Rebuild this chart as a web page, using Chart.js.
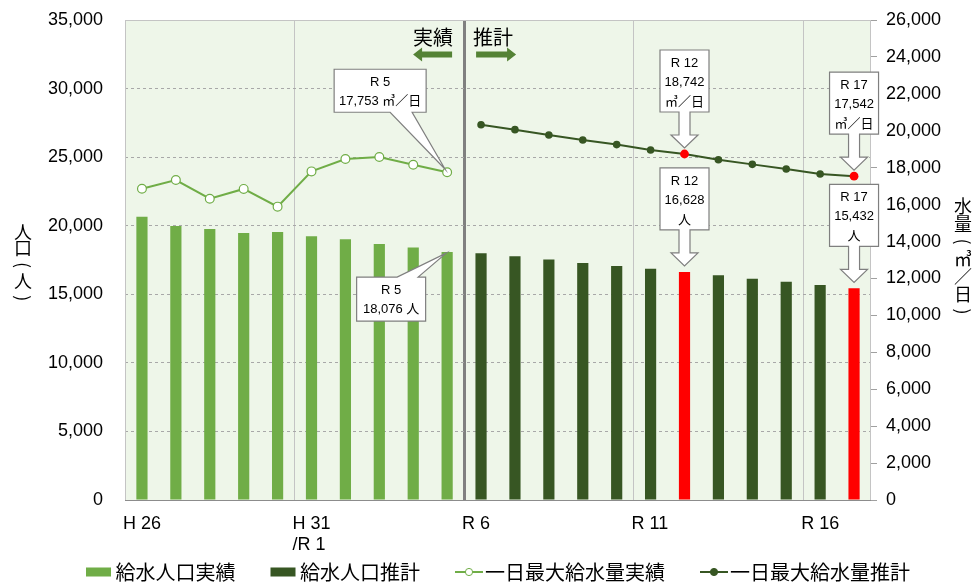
<!DOCTYPE html>
<html><head><meta charset="utf-8">
<script src="https://cdn.jsdelivr.net/npm/chart.js@4/dist/chart.umd.min.js"></script>
<style>html,body{margin:0;padding:0;background:#fff;}#wrap{width:974px;height:582px;}</style>
</head><body><div id="wrap"><canvas id="c" width="974" height="582"></canvas></div>
<script>
// ---- data ----
const categories = ['H26','H27','H28','H29','H30','H31/R1','R2','R3','R4','R5','R6','R7','R8','R9','R10','R11','R12','R13','R14','R15','R16','R17'];
const xTickLabels = ['H 26','','','','',['H 31','/R 1'],'','','','','R 6','','','','','R 11','','','','','R 16',''];
const popActual = [20660,19980,19760,19470,19540,19230,19010,18670,18420,18076,null,null,null,null,null,null,null,null,null,null,null,null];
const popForecast = [null,null,null,null,null,null,null,null,null,null,17990,17770,17530,17280,17060,16870,16628,16380,16140,15920,15680,15432];
const waterActual = [16860,17330,16320,16850,15890,17800,18470,18580,18160,17753,null,null,null,null,null,null,null,null,null,null,null,null];
const waterForecast = [null,null,null,null,null,null,null,null,null,null,20330,20060,19770,19500,19250,18960,18742,18430,18180,17930,17660,17542];
const highlightCats = ['R12','R17'];
const seriesLabels = ['給水人口実績','給水人口推計','一日最大給水量実績','一日最大給水量推計'];
const periodLabels = ['実績','推計'];
const leftTitle = '人口（人）';
const rightTitle = '水量（㎥／日）';

// ---- styles ----
const C_LIGHT = '#70AD47', C_DARK = '#375623', C_RED = '#FF0000', C_ARROW = '#548235';
const NUM_FONT = "'Liberation Sans', 'Noto Sans CJK JP', sans-serif";
const JP_FONT = "'Noto Sans CJK JP', sans-serif";
Chart.defaults.font.family = NUM_FONT;
Chart.defaults.color = '#000';

const isHi = i => highlightCats.includes(categories[i]);
const catIdx = c => categories.indexOf(c);
const catText = c => c.replace(/^([HR])/, '$1 ');
const fmt = v => v.toLocaleString('en-US');

// callouts: which point they describe, plus placement style
const callouts = [
  {kind:'bubbleDown', cat:'R5', series:'water', dx:-67, dy:-60, w:92, h:43, base:[10,32]},
  {kind:'bubbleUp',   cat:'R5', series:'pop',   dx:-56, dy:25,  w:69, h:44, base:[6,27]},
  {kind:'arrow', cat:'R12', series:'water'},
  {kind:'arrow', cat:'R12', series:'pop'},
  {kind:'arrow', cat:'R17', series:'water'},
  {kind:'arrow', cat:'R17', series:'pop'}
];
function seriesValue(series, i){
  if (series === 'water') return waterActual[i] ?? waterForecast[i];
  return popActual[i] ?? popForecast[i];
}
function calloutLines(co){
  const i = catIdx(co.cat), v = seriesValue(co.series, i);
  const unit = co.series === 'water' ? '㎥／日' : '人';
  if (co.kind === 'arrow') return [catText(co.cat), fmt(v), unit];
  return [catText(co.cat), fmt(v) + ' ' + unit];
}

const bgPlugin = {
  id:'bg',
  beforeDraw(chart){
    const {ctx, chartArea:a} = chart;
    ctx.save(); ctx.fillStyle = '#EEF6E9';
    ctx.fillRect(a.left, a.top, a.right-a.left, a.bottom-a.top);
    ctx.restore();
  },
  beforeDatasetsDraw(chart){
    const {ctx, chartArea:a} = chart;
    ctx.save();
    ctx.strokeStyle = '#C4C4C4'; ctx.lineWidth = 1;
    ctx.strokeRect(a.left+0.5, a.top+0.5, a.right-a.left-1, a.bottom-a.top);
    ctx.strokeStyle = '#8C8C8C';
    ctx.beginPath(); ctx.moveTo(a.left, a.bottom+0.5); ctx.lineTo(a.right, a.bottom+0.5); ctx.stroke();
    ctx.restore();
  }
};

function textLines(ctx, lines, cx, y0, step){
  lines.forEach((t,k)=>ctx.fillText(t, cx, y0 + k*step));
}

const calloutPlugin = {
  id:'callouts',
  afterDatasetsDraw(chart){
    const {ctx, scales} = chart;
    ctx.save();
    ctx.font = '13px ' + NUM_FONT;
    ctx.textAlign = 'center'; ctx.textBaseline = 'middle';
    ctx.lineJoin = 'miter';
    callouts.forEach(co => {
      const i = catIdx(co.cat);
      const v = seriesValue(co.series, i);
      const px = scales.x.getPixelForValue(i);
      const py = (co.series === 'water' ? scales.y1 : scales.y).getPixelForValue(v);
      const lines = calloutLines(co);
      ctx.fillStyle = '#fff'; ctx.strokeStyle = '#7F7F7F'; ctx.lineWidth = 1.2;
      ctx.beginPath();
      if (co.kind === 'arrow') {
        const w = 49, h = 62, gap = 6, len = 36, sw = 11, hw = 27, hh = 13;
        const tipY = py - gap, bot = tipY - len, top = bot - h, l = px - w/2, r = px + w/2;
        ctx.moveTo(l, top); ctx.lineTo(r, top); ctx.lineTo(r, bot);
        ctx.lineTo(px + sw/2, bot); ctx.lineTo(px + sw/2, tipY - hh);
        ctx.lineTo(px + hw/2, tipY - hh); ctx.lineTo(px, tipY);
        ctx.lineTo(px - hw/2, tipY - hh); ctx.lineTo(px - sw/2, tipY - hh);
        ctx.lineTo(px - sw/2, bot); ctx.lineTo(l, bot); ctx.closePath();
        ctx.fill(); ctx.stroke();
        ctx.fillStyle = '#000';
        textLines(ctx, lines, px, top + 13, 19.5);
      } else if (co.kind === 'bubbleDown') {
        const cx = px + co.dx, bot = py + co.dy, top = bot - co.h, l = cx - co.w/2, r = cx + co.w/2;
        ctx.moveTo(l, top); ctx.lineTo(r, top); ctx.lineTo(r, bot);
        ctx.lineTo(cx + co.base[1], bot); ctx.lineTo(px - 2, py - 3);
        ctx.lineTo(cx + co.base[0], bot); ctx.lineTo(l, bot); ctx.closePath();
        ctx.fill(); ctx.stroke();
        ctx.fillStyle = '#000';
        textLines(ctx, lines, cx, top + 13.5, 19);
      } else {
        const cx = px + co.dx, top = py + co.dy, bot = top + co.h, l = cx - co.w/2, r = cx + co.w/2;
        ctx.moveTo(l, top); ctx.lineTo(cx + co.base[0], top); ctx.lineTo(px - 1, py + 1);
        ctx.lineTo(cx + co.base[1], top); ctx.lineTo(r, top); ctx.lineTo(r, bot);
        ctx.lineTo(l, bot); ctx.closePath();
        ctx.fill(); ctx.stroke();
        ctx.fillStyle = '#000';
        textLines(ctx, lines, cx, top + 13.5, 19);
      }
    });

    // period labels and arrows
    const xs = scales.x;
    const divX = (xs.getPixelForValue(catIdx('R5')) + xs.getPixelForValue(catIdx('R6'))) / 2;
    ctx.font = '20px ' + JP_FONT; ctx.fillStyle = '#000';
    ctx.fillText(periodLabels[0], divX - 31, 37);
    ctx.fillText(periodLabels[1], divX + 29, 37);
    const arrow = (x0, x1, y, dir) => {
      const hl = 9, hh = 7, sh = 3;
      ctx.beginPath();
      if (dir < 0) {
        ctx.moveTo(x0, y); ctx.lineTo(x0+hl, y-hh); ctx.lineTo(x0+hl, y-sh); ctx.lineTo(x1, y-sh);
        ctx.lineTo(x1, y+sh); ctx.lineTo(x0+hl, y+sh); ctx.lineTo(x0+hl, y+hh);
      } else {
        ctx.moveTo(x1, y); ctx.lineTo(x1-hl, y-hh); ctx.lineTo(x1-hl, y-sh); ctx.lineTo(x0, y-sh);
        ctx.lineTo(x0, y+sh); ctx.lineTo(x1-hl, y+sh); ctx.lineTo(x1-hl, y+hh);
      }
      ctx.closePath(); ctx.fillStyle = C_ARROW; ctx.fill();
    };
    arrow(divX - 51, divX - 12, 54.5, -1);
    arrow(divX + 12, divX + 52, 54.5, 1);
    ctx.restore();
  }
};

const decoPlugin = {
  id:'deco',
  afterDraw(chart){
    const {ctx, chartArea:a} = chart;
    ctx.save();
    ctx.font = '18px ' + JP_FONT; ctx.fillStyle = '#000';
    ctx.textAlign = 'center'; ctx.textBaseline = 'middle';
    const drawVert = (s, x, cy, step) => {
      const chars = Array.from(s);
      const y0 = cy - (chars.length - 1) * step / 2;
      chars.forEach((ch, k) => {
        const y = y0 + k*step;
        if (ch === '（' || ch === '）') {
          ctx.save(); ctx.translate(x, y); ctx.rotate(Math.PI/2);
          ctx.fillText(ch === '（' ? '(' : ')', 0, 0);
          ctx.restore();
        } else {
          ctx.fillText(ch, x, y);
        }
      });
    };
    drawVert(leftTitle, 23, 265, 16.6);
    drawVert(rightTitle, 963, 259, 17.5);

    const items = [
      {label:seriesLabels[0], kind:'rect', color:C_LIGHT},
      {label:seriesLabels[1], kind:'rect', color:C_DARK},
      {label:seriesLabels[2], kind:'line', color:C_LIGHT, fill:'#fff'},
      {label:seriesLabels[3], kind:'line', color:C_DARK, fill:C_DARK}
    ];
    ctx.font = '20px ' + JP_FONT; ctx.textAlign = 'left';
    const gap = 35;
    const widths = items.map(it => (it.kind === 'rect' ? 25 + 4.5 : 28 + 2) + ctx.measureText(it.label).width);
    const total = widths.reduce((s,w)=>s+w,0) + gap*(items.length-1);
    let x = (a.left + a.right)/2 - total/2;
    const y = 572;
    items.forEach((it,k) => {
      if (it.kind === 'rect') {
        ctx.fillStyle = it.color; ctx.fillRect(x, y-4.5, 25, 9);
        ctx.fillStyle = '#000'; ctx.fillText(it.label, x + 29.5, y);
      } else {
        ctx.strokeStyle = it.color; ctx.lineWidth = 2;
        ctx.beginPath(); ctx.moveTo(x, y); ctx.lineTo(x+28, y); ctx.stroke();
        ctx.beginPath(); ctx.arc(x+14, y, 3.6, 0, Math.PI*2);
        ctx.fillStyle = it.fill; ctx.fill(); ctx.lineWidth = 1; ctx.stroke();
        ctx.fillStyle = '#000'; ctx.fillText(it.label, x + 30, y);
      }
      x += widths[k] + gap;
    });
    ctx.restore();
  }
};

const hiColor = (base) => (c) => isHi(c.dataIndex) ? C_RED : base;
const noPadV = (s) => { s.paddingTop = 0; s.paddingBottom = 0; };

new Chart(document.getElementById('c'), {
  type:'bar',
  data:{
    labels: categories,
    datasets:[
      {type:'bar', label:seriesLabels[0], data:popActual, yAxisID:'y', backgroundColor:C_LIGHT,
        grouped:false, barPercentage:0.33, categoryPercentage:1, order:2},
      {type:'bar', label:seriesLabels[1], data:popForecast, yAxisID:'y', backgroundColor:hiColor(C_DARK),
        grouped:false, barPercentage:0.33, categoryPercentage:1, order:2},
      {type:'line', label:seriesLabels[2], data:waterActual, yAxisID:'y1', borderColor:C_LIGHT, borderWidth:2,
        tension:0, pointRadius:4.4, pointBackgroundColor:'#fff', pointBorderColor:C_LIGHT, pointBorderWidth:1.2, order:1},
      {type:'line', label:seriesLabels[3], data:waterForecast, yAxisID:'y1', borderColor:C_DARK, borderWidth:2,
        tension:0, pointRadius:(c)=>isHi(c.dataIndex)?4.4:3.8, pointBackgroundColor:hiColor(C_DARK),
        pointBorderColor:hiColor(C_DARK), pointBorderWidth:0, order:1}
    ]
  },
  options:{
    responsive:false, animation:false, devicePixelRatio:1,
    layout:{padding:{top:20,left:0,right:0,bottom:0}},
    plugins:{legend:{display:false}, tooltip:{enabled:false}},
    scales:{
      x:{
        offset:true,
        grid:{offset:true, drawTicks:false,
          color:(c)=> (c.index>0 && c.index<categories.length && c.index%5===0) ? (c.index===10 ? '#808080' : '#C4C4C4') : 'rgba(0,0,0,0)',
          lineWidth:(c)=> c.index===10 ? 3 : 1},
        border:{display:false},
        ticks:{autoSkip:false, maxRotation:0, minRotation:0, align:'start', labelOffset:-19, padding:13,
          font:{size:18}, color:'#000', callback:(v,i)=>xTickLabels[i]},
        afterFit:(s)=>{s.height = 82; s.paddingLeft = 0; s.paddingRight = 0;}
      },
      y:{
        position:'left', min:0, max:35000,
        ticks:{stepSize:5000, padding:22, font:{size:18}, color:'#000'},
        grid:{color:'#A8A8A8', drawTicks:false, lineWidth:1},
        border:{display:false, dash:[3,3]},
        afterFit:(s)=>{s.width = 125; noPadV(s);}
      },
      y1:{
        position:'right', min:0, max:26000,
        ticks:{stepSize:2000, padding:9, font:{size:18}, color:'#000'},
        grid:{drawOnChartArea:false, drawTicks:true, tickLength:6, tickColor:'#A0A0A0', color:'#A0A0A0'},
        border:{display:false},
        afterFit:(s)=>{s.width = 103; noPadV(s);}
      }
    }
  },
  plugins:[bgPlugin, calloutPlugin, decoPlugin]
});
</script></body></html>
